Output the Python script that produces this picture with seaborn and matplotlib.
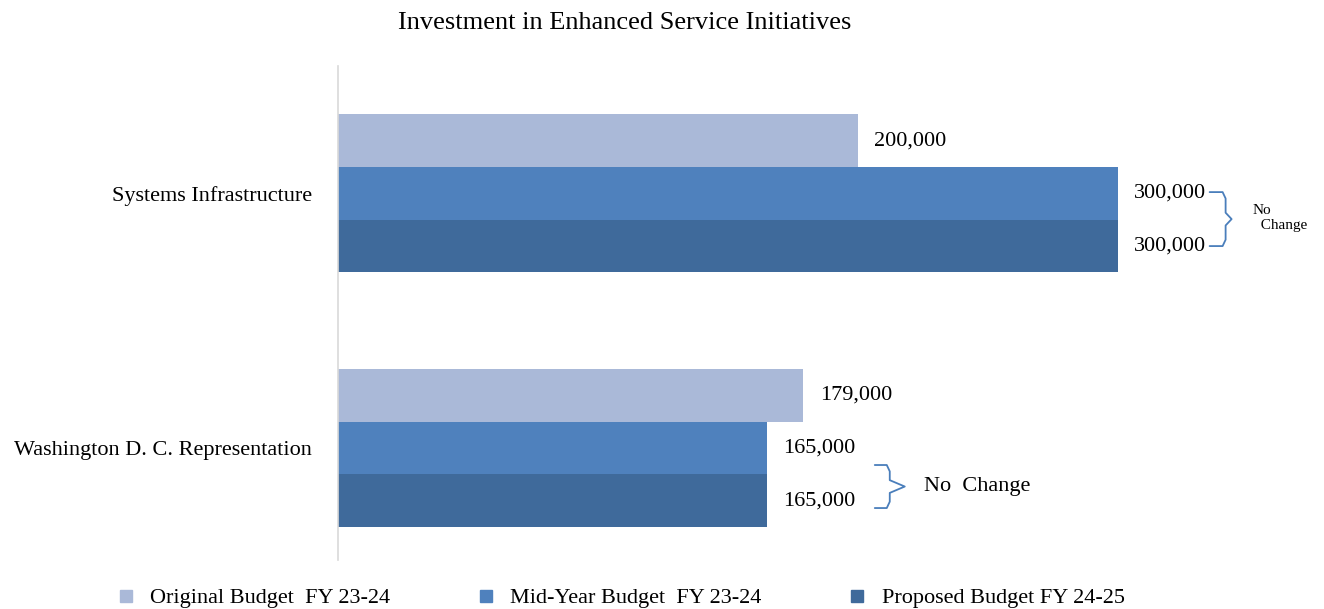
import matplotlib
matplotlib.use('Agg')
import matplotlib.pyplot as plt
from matplotlib.lines import Line2D
import seaborn as sns
import pandas as pd
import numpy as np

categories = ['Systems Infrastructure', 'Washington D. C. Representation']
series = ['Original Budget  FY 23-24', 'Mid-Year Budget  FY 23-24', 'Proposed Budget FY 24-25']
original = [200000, 179000]
mid_year = [300000, 165000]
proposed = [300000, 165000]
colors = ['#AAB9D8', '#4F81BD', '#3F6A9B']

rows = []
for s, vals in zip(series, [original, mid_year, proposed]):
    for c, v in zip(categories, vals):
        rows.append({'category': c, 'series': s, 'value': v})
df = pd.DataFrame(rows)

sns.set_style('white')
plt.rcParams['font.family'] = ['Liberation Serif', 'DejaVu Serif']
plt.rcParams['text.color'] = 'black'
plt.rcParams['ytick.color'] = 'black'
plt.rcParams['axes.labelcolor'] = 'black'

fig = plt.figure(figsize=(13.24, 6.09), dpi=100)
ax = fig.add_axes([0.2553, 0.0805, 0.687, 0.811])

sns.barplot(data=df, y='category', x='value', hue='series', hue_order=series,
            order=categories, orient='h', palette=colors, width=0.62,
            saturation=1, legend=False, linewidth=0, ax=ax)

for cont in ax.containers:
    ax.bar_label(cont, labels=['{:,.0f}'.format(b.get_width()) for b in cont],
                 padding=12, fontsize=16, color='black')

ax.set_xlim(0, 350000)
ax.set_ylim(1.44, -0.5)
ax.set_xlabel('')
ax.set_ylabel('')
ax.set_xticks([])
ax.tick_params(axis='y', length=0, pad=19, labelsize=16, labelcolor='black')
for sp in ['top', 'right', 'bottom']:
    ax.spines[sp].set_visible(False)
ax.spines['left'].set_color('#D9D9D9')
ax.spines['left'].set_linewidth(1.2)

px = 384.6  # data units per pixel


def brace(x0, x1, ytop, ybot, tip):
    ymid = (ytop + ybot) / 2
    r = 0.025
    xs = [x0, x1 - 3 * px, x1, x1, x1 + tip, x1, x1, x1 - 3 * px, x0]
    ys = [ytop, ytop, ytop + r, ymid - r, ymid, ymid + r, ybot - r, ybot, ybot]
    ax.plot(xs, ys, color='#4A7EBB', lw=1.3, clip_on=False)


# top group brace
v = mid_year[0]
brace(v + 92 * px, v + 108 * px, -0.005, 0.207, 6 * px)
ax.text(v + 135 * px, 0.096, 'No\n  Change', fontsize=11, va='center', ha='left')

# bottom group brace
v = mid_year[1]
brace(v + 108 * px, v + 123 * px, 1.067, 1.236, 15 * px)
ax.text(v + 157 * px, 1.153, 'No  Change', fontsize=16, va='center', ha='left')

fig.text(0.472, 0.962, 'Investment in Enhanced Service Initiatives',
         fontsize=19, ha='center', va='center')

handles = [Line2D([], [], marker='s', linestyle='none', color=c, markersize=8)
           for c in colors]
fig.legend(handles, series, loc='center', bbox_to_anchor=(0.468, 0.018),
           ncol=3, frameon=False, fontsize=16, handletextpad=0.6,
           columnspacing=3.8, handlelength=1.0)

fig.savefig('out.png', dpi=100)
